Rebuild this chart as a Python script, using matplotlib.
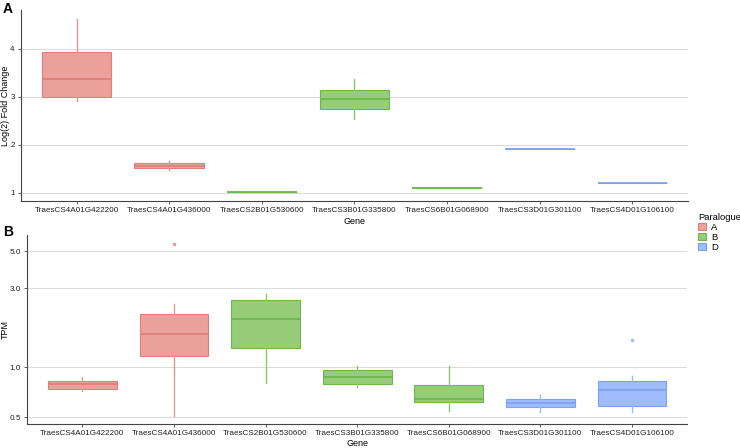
import matplotlib.pyplot as plt
from matplotlib.patches import Patch

plt.rcParams['font.family'] = ['Liberation Sans', 'DejaVu Sans']

genes = ["TraesCS4A01G422200", "TraesCS4A01G436000", "TraesCS2B01G530600",
         "TraesCS3B01G335800", "TraesCS6B01G068900", "TraesCS3D01G301100",
         "TraesCS4D01G106100"]
paralogue = ["A", "A", "B", "B", "B", "D", "D"]

# Panel A - log2 fold change box stats
fc_low = [2.91, 1.47, 1.01, 2.54, 1.10, 1.92, 1.21]
fc_q1 = [2.99, 1.51, 1.01, 2.74, 1.10, 1.92, 1.21]
fc_med = [3.37, 1.56, 1.01, 2.95, 1.10, 1.92, 1.21]
fc_q3 = [3.94, 1.62, 1.01, 3.15, 1.10, 1.92, 1.21]
fc_high = [4.63, 1.66, 1.01, 3.36, 1.10, 1.92, 1.21]

# Panel B - TPM box stats
tpm_low = [0.717, 0.511, 0.808, 0.758, 0.545, 0.540, 0.538]
tpm_q1 = [0.743, 1.165, 1.31, 0.797, 0.615, 0.574, 0.587]
tpm_med = [0.790, 1.58, 1.96, 0.878, 0.641, 0.610, 0.727]
tpm_q3 = [0.830, 2.085, 2.55, 0.967, 0.782, 0.644, 0.827]
tpm_high = [0.871, 2.41, 2.77, 1.018, 1.018, 0.681, 0.883]
tpm_out = [[], [5.53], [], [], [], [], [1.466]]

fills = {"A": "#EAA19B", "B": "#97CD79", "D": "#9EBBFA"}
lines = {"A": "#E07F78", "B": "#6DB84B", "D": "#7FA2F0"}
whisk = {"A": "#E59690", "B": "#8CC86C", "D": "#9AB7F6"}


def draw_boxes(ax, low, q1, med, q3, high, outs):
    for i in range(len(genes)):
        p = paralogue[i]
        st = {"whislo": low[i], "q1": q1[i], "med": med[i], "q3": q3[i],
              "whishi": high[i], "fliers": outs[i]}
        ax.bxp([st], positions=[i], widths=0.75, patch_artist=True,
               showcaps=False,
               boxprops=dict(facecolor=fills[p], edgecolor=lines[p], linewidth=0.8),
               medianprops=dict(color=lines[p], linewidth=1.3),
               whiskerprops=dict(color=whisk[p], linewidth=1.0),
               flierprops=dict(marker="o", markersize=2.5, markerfacecolor=whisk[p],
                               markeredgecolor="none"),
               zorder=3)


def style(ax):
    ax.set_xlim(-0.6, 6.6)
    ax.set_xticks(range(len(genes)))
    ax.set_xticklabels(genes, fontsize=5.9, color="#222222")
    for s in ["top", "right"]:
        ax.spines[s].set_visible(False)
    for s in ["left", "bottom"]:
        ax.spines[s].set_color("#444444")
        ax.spines[s].set_linewidth(0.8)
    ax.tick_params(axis="both", length=2.5, width=0.6, color="#444444", pad=2,
                   labelsize=5.9, labelcolor="#222222")
    ax.yaxis.grid(True, color="#DCDCDC", linewidth=0.8, zorder=0)
    ax.set_axisbelow(True)


fig = plt.figure(figsize=(7.4, 4.48), dpi=100)

axA = fig.add_axes([0.0284, 0.5513, 0.9013, 0.4264])
draw_boxes(axA, fc_low, fc_q1, fc_med, fc_q3, fc_high, [[]] * 7)
style(axA)
axA.set_ylim(0.825, 4.81)
axA.set_yticks([1, 2, 3, 4])
axA.set_ylabel("Log(2) Fold Change", fontsize=6.5, va="center")
axA.yaxis.set_label_coords(-0.023, 0.5)
axA.set_xlabel("Gene", fontsize=6.5, labelpad=2)

axB = fig.add_axes([0.0369, 0.0536, 0.8915, 0.4218])
draw_boxes(axB, tpm_low, tpm_q1, tpm_med, tpm_q3, tpm_high, tpm_out)
axB.set_yscale("log")
style(axB)
axB.set_ylim(0.456, 6.27)
axB.set_yticks([0.5, 1.0, 3.0, 5.0])
axB.set_yticklabels(["0.5", "1.0", "3.0", "5.0"])
axB.minorticks_off()
axB.set_ylabel("TPM", fontsize=6.5, va="center")
axB.yaxis.set_label_coords(-0.033, 0.5)
axB.set_xlabel("Gene", fontsize=6.5, labelpad=1)

fig.text(0.004, 0.995, "A", fontsize=10, fontweight="bold", va="top")
fig.text(0.004, 0.497, "B", fontsize=10, fontweight="bold", va="top")

handles = [Patch(facecolor=fills[k], edgecolor=lines[k], linewidth=0.8) for k in ["A", "B", "D"]]
leg = fig.legend(handles, ["A", "B", "D"], title="Paralogue", loc="upper left",
                 bbox_to_anchor=(0.937, 0.535), frameon=False, fontsize=6.8,
                 title_fontsize=6.8, handlelength=0.8, handleheight=0.8,
                 handletextpad=0.6, labelspacing=0.1, borderpad=0, alignment="left")

fig.savefig("out.png", dpi=100)
